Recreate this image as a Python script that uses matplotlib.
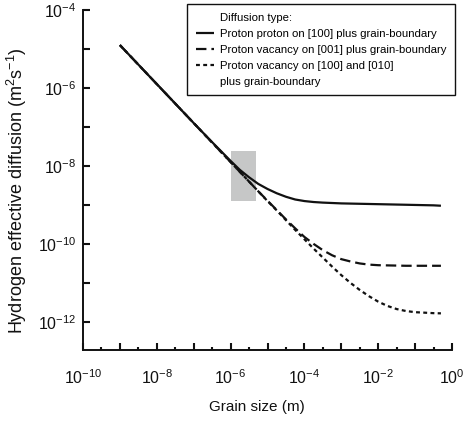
import numpy as np
import matplotlib
matplotlib.use("Agg")
import matplotlib.pyplot as plt
from matplotlib.lines import Line2D
from matplotlib.patches import Rectangle
from matplotlib.ticker import FixedLocator, FixedFormatter, NullLocator, NullFormatter

plt.rcParams["font.family"] = ["Liberation Sans", "DejaVu Sans"]
plt.rcParams["mathtext.fontset"] = "custom"
plt.rcParams["mathtext.rm"] = "Liberation Sans"
plt.rcParams["mathtext.it"] = "Liberation Sans:italic"
plt.rcParams["mathtext.bf"] = "Liberation Sans:bold"
plt.rcParams["mathtext.default"] = "regular"
plt.rcParams["lines.scale_dashes"] = False

# grain size, log10 of metres
log_grain = [-9, -8, -7, -6.5, -6, -5.75, -5.5, -5.25, -5, -4.75, -4.5, -4.25, -4,
             -3.75, -3.5, -3.25, -3, -2.75, -2.5, -2.25, -2, -1.75, -1.5, -1.25,
             -1, -0.5, -0.3]

# log10 of effective hydrogen diffusion (m^2 s^-1)
log_d_proton_100 = [-4.90, -5.90, -6.90, -7.39, -7.87, -8.10, -8.29, -8.46, -8.59,
                    -8.70, -8.79, -8.86, -8.90, -8.925, -8.94, -8.95, -8.96, -8.965,
                    -8.97, -8.975, -8.98, -8.985, -8.99, -8.995, -9.00, -9.01, -9.02]
log_d_vac_001 = [-4.90, -5.90, -6.90, -7.40, -7.90, -8.15, -8.40, -8.65, -8.89,
                 -9.13, -9.37, -9.60, -9.82, -10.00, -10.16, -10.29, -10.39, -10.45,
                 -10.50, -10.53, -10.545, -10.55, -10.555, -10.56, -10.56, -10.56, -10.56]
log_d_vac_100_010 = [-4.90, -5.90, -6.90, -7.40, -7.90, -8.15, -8.40, -8.65, -8.90,
                     -9.14, -9.39, -9.64, -9.88, -10.12, -10.35, -10.58, -10.80, -11.00,
                     -11.18, -11.34, -11.48, -11.59, -11.67, -11.72, -11.75, -11.775, -11.78]

series_labels = ["Proton proton on [100] plus grain-boundary",
                 "Proton vacancy on [001] plus grain-boundary",
                 "Proton vacancy on [100] and [010]"]
legend_title = "Diffusion type:"
legend_tail = "plus grain-boundary"

# highlighted window (grain size, diffusion)
box_grain = [1e-6, 5e-6]
box_diff = [1.3e-9, 2.4e-8]

x_major_exp = list(range(-10, 1))
x_label_exp = [-10, -8, -6, -4, -2, 0]
y_major_exp = list(range(-12, -3))
y_label_exp = [-12, -10, -8, -6, -4]

grain = 10.0 ** np.array(log_grain)

W, H = 463, 422
fig = plt.figure(figsize=(W / 100, H / 100), dpi=100)
ax = fig.add_axes([83 / W, 1 - 350 / H, (452 - 83) / W, (350 - 10) / H])
ax.set_xscale("log")
ax.set_yscale("log")
ax.set_xlim(1e-10, 1.0)
ax.set_ylim(10 ** -12.72, 1e-4)

ax.add_patch(Rectangle((box_grain[0], box_diff[0]), box_grain[1] - box_grain[0],
                       box_diff[1] - box_diff[0], facecolor="#c6c7c7",
                       edgecolor="none", zorder=1))

l1, = ax.plot(grain, 10.0 ** np.array(log_d_proton_100), color="#111111", lw=1.6,
              solid_capstyle="butt", zorder=3)
l2, = ax.plot(grain, 10.0 ** np.array(log_d_vac_001), color="#111111", lw=1.6,
              dashes=(7.5, 3.6), zorder=3)
l3, = ax.plot(grain, 10.0 ** np.array(log_d_vac_100_010), color="#111111", lw=1.6,
              dashes=(2.8, 2.4), zorder=3)

for s in ["top", "right"]:
    ax.spines[s].set_visible(False)
for s in ["left", "bottom"]:
    ax.spines[s].set_linewidth(1.4)
    ax.spines[s].set_color("#111111")

ax.xaxis.set_major_locator(FixedLocator([10.0 ** e for e in x_major_exp]))
ax.xaxis.set_major_formatter(FixedFormatter(
    [r"$10^{%d}$" % e if e in x_label_exp else "" for e in x_major_exp]))
ax.xaxis.set_minor_locator(FixedLocator([10.0 ** (e + 0.5) for e in x_major_exp[:-1]]))
ax.xaxis.set_minor_formatter(NullFormatter())
ax.yaxis.set_major_locator(FixedLocator([10.0 ** e for e in y_major_exp]))
ax.yaxis.set_major_formatter(FixedFormatter(
    [r"$10^{%d}$" % e if e in y_label_exp else "" for e in y_major_exp]))
ax.yaxis.set_minor_locator(NullLocator())

ax.tick_params(which="major", direction="in", length=5, width=1.5, color="#111111",
               labelsize=11.5, labelcolor="#111111")
ax.tick_params(which="minor", direction="in", length=2.3, width=1.5, color="#111111")
ax.tick_params(axis="x", which="major", pad=13)
ax.tick_params(axis="y", which="major", pad=5)

ax.set_xlabel("Grain size (m)", fontsize=11, color="#111111")
ax.xaxis.set_label_coords(0.4715, -0.148)
ax.set_ylabel(r"Hydrogen effective diffusion (m$^{2}$s$^{-1}$)", fontsize=13,
              color="#111111")
ax.yaxis.set_label_coords(-0.145, 0.47)

blank = Line2D([], [], linestyle="none")
leg = ax.legend([blank, l1, l2, l3, blank],
                [legend_title] + series_labels + [legend_tail],
                loc="upper right", bbox_to_anchor=(455 / W, 1 - 4 / H),
                bbox_transform=fig.transFigure, borderaxespad=0, fontsize=8.2,
                frameon=True, fancybox=False, framealpha=1, edgecolor="#111111",
                handlelength=1.6, handletextpad=0.5, labelspacing=0.52,
                borderpad=0.78)
leg.get_frame().set_linewidth(1.0)
leg.set_zorder(5)

fig.savefig("out.png", dpi=100)
